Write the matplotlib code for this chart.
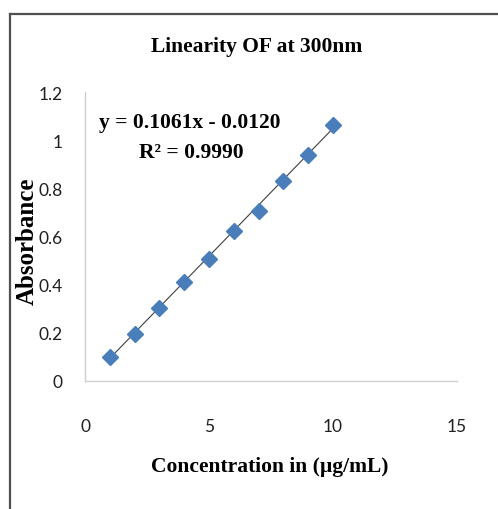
import matplotlib
matplotlib.use("Agg")
import matplotlib.pyplot as plt
from matplotlib.lines import Line2D

# Calibration data
concentration = [1, 2, 3, 4, 5, 6, 7, 8, 9, 10]          # µg/mL
absorbance = [0.098, 0.195, 0.304, 0.413, 0.507, 0.621, 0.704, 0.829, 0.940, 1.062]

# Regression results shown on the chart
slope = 0.1061
intercept = -0.0120
r_squared = 0.9990

x_ticks = [0, 5, 10, 15]
y_ticks = [0, 0.2, 0.4, 0.6, 0.8, 1.0, 1.2]
y_tick_labels = ["0", "0.2", "0.4", "0.6", "0.8", "1", "1.2"]

W, H = 498, 510
fig = plt.figure(figsize=(W / 100, H / 100), dpi=100)
fig.patch.set_facecolor("white")

tick_font = ["Liberation Sans Narrow", "Lato", "DejaVu Sans"]
serif_font = ["Liberation Serif", "DejaVu Serif"]

ax = fig.add_axes([85 / W, 1 - 382 / H, (457 - 85) / W, (382 - 93) / H])
ax.set_xlim(0, 15)
ax.set_ylim(0, 1.2)

# trendline from the fitted equation
fit_x = [concentration[0], concentration[-1]]
fit_y = [slope * v + intercept for v in fit_x]
ax.plot(fit_x, fit_y, color="#404040", lw=0.8, zorder=2)

ax.plot(concentration, absorbance, linestyle="none", marker="D",
        markersize=8.5, color="#4a7ebb", markeredgecolor="#4a7ebb", zorder=3)

for side in ("top", "right"):
    ax.spines[side].set_visible(False)
for side in ("left", "bottom"):
    ax.spines[side].set_color("#d0d0d0")
    ax.spines[side].set_linewidth(1.0)

ax.set_xticks(x_ticks)
ax.set_xticklabels([str(t) for t in x_ticks], fontfamily=tick_font, fontsize=12.5, color="#202020")
ax.set_yticks(y_ticks)
ax.set_yticklabels(y_tick_labels, fontfamily=tick_font, fontsize=12.5, color="#202020")
ax.tick_params(axis="both", length=0)
ax.tick_params(axis="x", pad=27)
ax.tick_params(axis="y", pad=16)

# equation annotation
fig.text(190 / W, 1 - 123 / H, f"y = {slope:.4f}x - {abs(intercept):.4f}",
         ha="center", va="center", fontfamily=serif_font, fontweight="bold", fontsize=15.5)
fig.text(191 / W, 1 - 153 / H, f"R\u00b2 = {r_squared:.4f}",
         ha="center", va="center", fontfamily=serif_font, fontweight="bold", fontsize=15.5)

# title and axis labels
fig.text(257 / W, 1 - 47 / H, "Linearity OF at 300nm", ha="center", va="center",
         fontfamily=serif_font, fontweight="bold", fontsize=15.5)
fig.text(270 / W, 1 - 467 / H, "Concentration in (\u00b5g/mL)", ha="center", va="center",
         fontfamily=serif_font, fontweight="bold", fontsize=15.5)
fig.text(27 / W, 1 - 241 / H, "Absorbance", ha="center", va="center", rotation=90,
         fontfamily=serif_font, fontweight="bold", fontsize=18)

# outer frame (top and left edges)
fig.add_artist(Line2D([10 / W, 10 / W], [0, 1 - 15 / H], transform=fig.transFigure,
                      color="#505050", lw=1.6))
fig.add_artist(Line2D([10 / W, 1], [1 - 15 / H, 1 - 15 / H], transform=fig.transFigure,
                      color="#505050", lw=1.6))

fig.savefig("out.png", dpi=100, facecolor="white")
